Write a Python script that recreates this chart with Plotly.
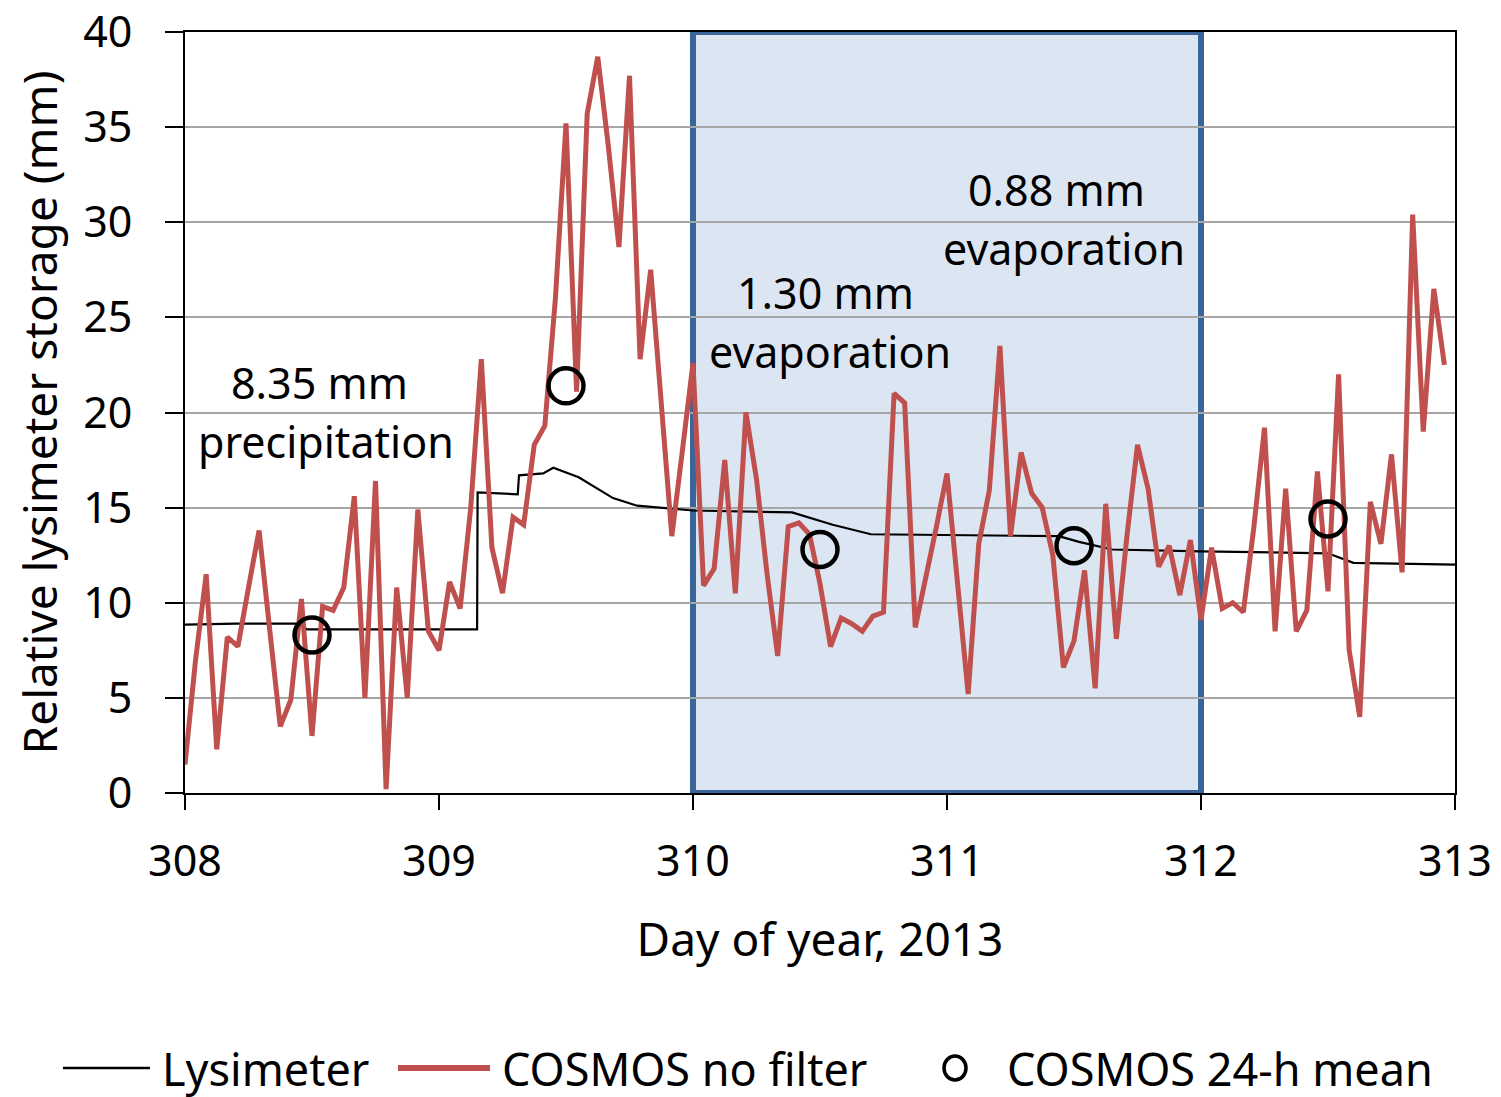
import plotly.graph_objects as go

# ---- data ----
cosmos_hours = list(range(120))  # hourly steps from day 308
cosmos_no_filter = [
    1.5, 7.0, 11.5, 2.3, 8.2, 7.7, 10.8, 13.8, 8.6, 3.5, 4.9, 10.2,
    3.0, 9.8, 9.6, 10.8, 15.6, 5.0, 16.4, 0.2, 10.8, 5.0, 14.9, 8.5,
    7.5, 11.1, 9.7, 15.0, 22.8, 12.9, 10.5, 14.5, 14.1, 18.3, 19.3, 26.0,
    35.2, 21.1, 35.7, 38.7, 34.0, 28.7, 37.7, 22.8, 27.5, 20.5, 13.5, 18.0,
    22.6, 10.9, 11.8, 17.5, 10.5, 20.0, 16.5, 11.5, 7.2, 14.0, 14.2, 13.6,
    11.0, 7.7, 9.2, 8.9, 8.5, 9.3, 9.5, 21.0, 20.5, 8.7, 11.2, 14.0,
    16.8, 11.0, 5.2, 13.1, 15.9, 23.5, 13.5, 17.9, 15.75, 15.0, 12.5, 6.6,
    8.0, 11.7, 5.5, 15.2, 8.1, 13.5, 18.3, 16.0, 11.9, 13.0, 10.4, 13.3,
    9.1, 12.9, 9.7, 10.0, 9.5, 14.0, 19.2, 8.5, 16.0, 8.5, 9.6, 16.9,
    10.6, 22.0, 7.5, 4.0, 15.3, 13.1, 17.8, 11.6, 30.4, 19.0, 26.5, 22.5,
]
cosmos_days = [308 + h / 24 for h in cosmos_hours]

lys_days = [308.00, 308.20, 308.45, 308.48, 309.150, 309.152, 309.31, 309.315,
            309.41, 309.45, 309.55, 309.685, 309.78, 310.00, 310.39, 310.55,
            310.70, 311.44, 311.52, 311.65, 312.00, 312.50, 312.60, 313.00]
lys_values = [8.85, 8.9, 8.9, 8.6, 8.6, 15.8, 15.7, 16.7,
              16.8, 17.1, 16.6, 15.5, 15.1, 14.85, 14.75, 14.1,
              13.6, 13.5, 13.2, 12.8, 12.7, 12.6, 12.1, 12.0]

mean_days = [308.5, 309.5, 310.5, 311.5, 312.5]
mean_values = [8.3, 21.4, 12.8, 13.0, 14.4]

x_ticks = [308, 309, 310, 311, 312, 313]
y_ticks = [0, 5, 10, 15, 20, 25, 30, 35, 40]

shade_start, shade_end = 310, 312

notes = [
    (308.53, 21.6, "8.35 mm"), (308.555, 18.5, "precipitation"),
    (310.52, 26.3, "1.30 mm"), (310.54, 23.2, "evaporation"),
    (311.43, 31.7, "0.88 mm"), (311.46, 28.6, "evaporation"),
]

series_names = ["Lysimeter", "COSMOS no filter", "COSMOS 24-h mean"]

RED = "#c0504d"
TXT = "Noto Sans, Open Sans, sans-serif"

fig = go.Figure()

fig.add_shape(type="rect", xref="x", yref="y", x0=shade_start, x1=shade_end,
              y0=0, y1=40, fillcolor="#dce6f2",
              line=dict(color="#3a6599", width=6), layer="below")

fig.add_trace(go.Scatter(x=lys_days, y=lys_values, mode="lines", name=series_names[0],
                         line=dict(color="black", width=2.2), showlegend=False))
fig.add_trace(go.Scatter(x=cosmos_days, y=cosmos_no_filter, mode="lines",
                         name=series_names[1], line=dict(color=RED, width=5),
                         showlegend=False))
fig.add_trace(go.Scatter(x=mean_days, y=mean_values, mode="markers",
                         name=series_names[2], showlegend=False,
                         marker=dict(symbol="circle-open", size=35,
                                     color="black", line=dict(width=4.5, color="black"))))

for (xx, yy, t) in notes:
    fig.add_annotation(x=xx, y=yy, text=t, showarrow=False,
                       font=dict(family=TXT, size=43, color="black"))

# ---- legend drawn below the plot (paper coordinates relative to plot area) ----
LEG_Y = -0.3614
fig.add_shape(type="line", xref="paper", yref="paper", x0=-0.0961, x1=-0.0276,
              y0=LEG_Y, y1=LEG_Y, line=dict(color="black", width=2.5))
fig.add_shape(type="line", xref="paper", yref="paper", x0=0.1677, x1=0.2402,
              y0=LEG_Y, y1=LEG_Y, line=dict(color=RED, width=6))
fig.add_shape(type="circle", xref="paper", yref="paper", xsizemode="pixel",
              ysizemode="pixel", xanchor=0.6063, yanchor=LEG_Y,
              x0=-11, x1=11, y0=-12, y1=12, line=dict(color="black", width=3.5))
for xl, name in zip([-0.0197, 0.2480, 0.6457], series_names):
    fig.add_annotation(xref="paper", yref="paper", x=xl, y=LEG_Y, text=name,
                       showarrow=False, xanchor="left", yanchor="middle",
                       font=dict(family=TXT, size=45, color="black"))

common_x = dict(range=[308, 313], tickvals=x_ticks)
common_y = dict(range=[0, 40], tickvals=y_ticks)

fig.update_layout(
    width=1501, height=1097,
    margin=dict(l=177, r=54, t=24, b=312),
    paper_bgcolor="white", plot_bgcolor="white",
    showlegend=False,
    xaxis=dict(**common_x, ticktext=[str(v) for v in x_ticks],
               showgrid=False, zeroline=False, showline=True, linecolor="black",
               linewidth=2, mirror=True, ticks="outside", ticklen=15, tickwidth=2,
               tickcolor="black", automargin=False, ticklabelstandoff=14,
               ticklabeloverflow="allow",
               tickfont=dict(family=TXT, size=43, color="black"),
               title=dict(text="Day of year, 2013", standoff=36,
                          font=dict(family=TXT, size=46, color="black"))),
    yaxis=dict(**common_y, showgrid=True, gridcolor="#a6a6a6",
               gridwidth=1.8, zeroline=False, showline=True, linecolor="black",
               linewidth=2, mirror=True, ticks="outside", ticklen=18, tickwidth=2,
               tickcolor="black", automargin=False, ticklabelstandoff=24,
               ticklabeloverflow="allow",
               tickfont=dict(family=TXT, size=43, color="black"),
               title=dict(text="Relative lysimeter storage (mm)", standoff=14,
                          font=dict(family=TXT, size=46, color="black"))),
    xaxis2=dict(**common_x, overlaying="x", anchor="y", side="bottom",
                showgrid=False, zeroline=False, showline=False, ticks="inside",
                ticklen=6, tickwidth=2, tickcolor="black", showticklabels=False),
    yaxis2=dict(**common_y, overlaying="y", anchor="x", side="left",
                showgrid=False, zeroline=False, showline=False, ticks="inside",
                ticklen=6, tickwidth=2, tickcolor="black", showticklabels=False),
)

fig.write_html("out.html")
